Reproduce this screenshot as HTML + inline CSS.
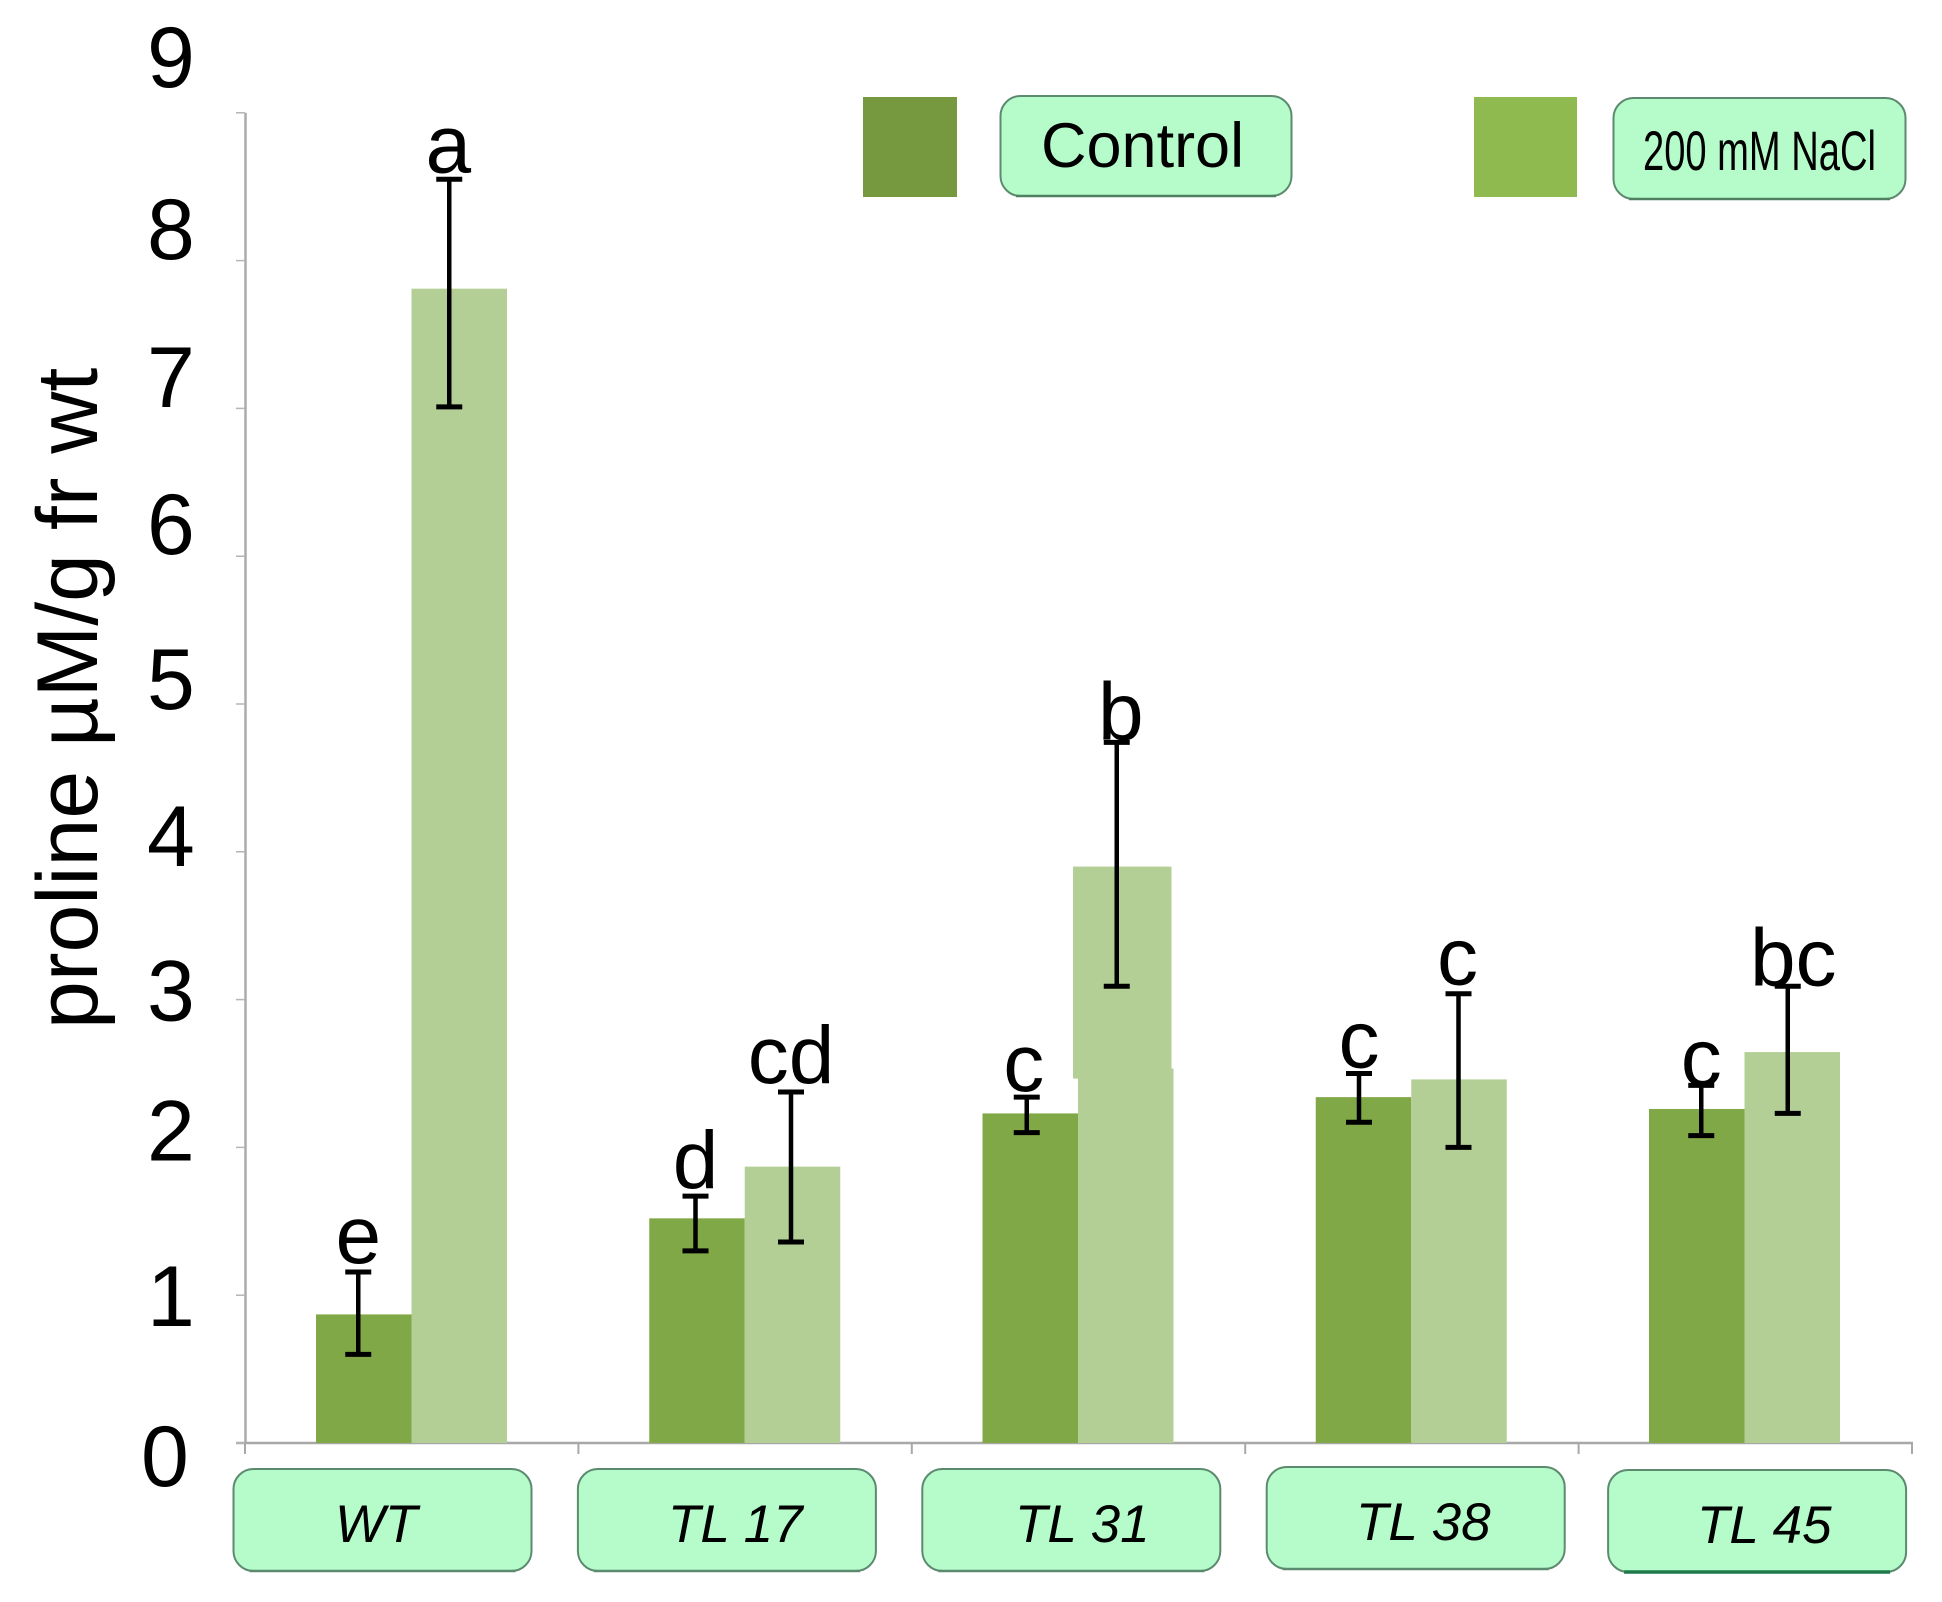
<!DOCTYPE html>
<html lang="en">
<head>
<meta charset="utf-8">
<title>Proline content chart</title>
<style>
html,body{margin:0;padding:0;background:#fff;}
svg{display:block;font-family:"Liberation Sans",Arial,sans-serif;}
</style>
</head>
<body>
<svg id="chart" width="1942" height="1602" viewBox="0 0 1942 1602" xmlns="http://www.w3.org/2000/svg">
  <rect x="0" y="0" width="1942" height="1602" fill="#ffffff"/>
  <text transform="translate(97 1029) rotate(-90)" font-size="86" fill="#000">proline µM/g fr wt</text>

  <rect x="863" y="97" width="94" height="100" fill="#76993f"/>
  <rect x="1000.5" y="96" width="291" height="100" rx="20" fill="#b6fccb" stroke="#5c8a6f" stroke-width="2"/>
  <line x1="1016" x2="1276" y1="196" y2="196" stroke="#4f8062" stroke-width="2.5"/>
  <text x="1041" y="167" font-size="63" fill="#000">Control</text>
  <rect x="1474" y="97" width="103" height="100" fill="#8fba50"/>
  <rect x="1613.5" y="98" width="292" height="101" rx="20" fill="#b6fccb" stroke="#5c8a6f" stroke-width="2"/>
  <line x1="1629" x2="1890" y1="199" y2="199" stroke="#4f8062" stroke-width="2.5"/>
  <text x="1643" y="170" font-size="56" textLength="233" lengthAdjust="spacingAndGlyphs" fill="#000">200 mM NaCl</text>

  <g id="marks"></g>
</svg>
<script>
const categories = ['WT', 'TL 17', 'TL 31', 'TL 38', 'TL 45'];
const controlValues = [0.87, 1.52, 2.23, 2.34, 2.26];
const saltValues = [7.81, 1.87, 3.90, 2.46, 2.645];
const controlHigh = [1.157, 1.67, 2.34, 2.50, 2.42];
const controlLow = [0.60, 1.30, 2.10, 2.17, 2.08];
const saltHigh = [8.55, 2.375, 4.74, 3.04, 3.09];
const saltLow = [7.01, 1.36, 3.09, 2.00, 2.23];
const controlLetters = ['e', 'd', 'c', 'c', 'c'];
const saltLetters = ['a', 'cd', 'b', 'c', 'bc'];
const yTicks = [0, 1, 2, 3, 4, 5, 6, 7, 8, 9];

const SVGNS = 'http://www.w3.org/2000/svg';
const root = document.getElementById('marks');

function y(v) { return 1443 - 147.8 * v; }
function band(i) { return 245 + 333.4 * i; }
function barX(i, s) { return 245 + 333.25 * i + 71 + s * 95.5; }
const BAR_W = 95.5;

function make(tag, attrs, text) {
  const n = document.createElementNS(SVGNS, tag);
  for (const k in attrs) n.setAttribute(k, attrs[k]);
  if (text !== undefined) n.textContent = text;
  root.appendChild(n);
  return n;
}

/* hand-placement of the reference's overlaid labels and whiskers */
const tickLabelNudge = {9: -26, 8: -1.5, 7: -1.5, 6: -2, 5: 5, 4: 14, 3: 21, 2: 13, 1: 31, 0: 43};
const whiskerShift = {control: [-5.5, -1.5, -3.5, -4.5, 4.5], salt: [-10, -1.5, -9, -0.5, -4.5]};
const letterLift = {control: [9, 8, 6, 6, 0], salt: [7, 9, 3, 9, 1]};
const letterShift = {control: [0, 0, -3, 0, 0], salt: [-1, 0, 4, -1, 5.5]};
const boxPlace = {
  'WT':    {dx: -12, top: 1469, textX: 335},
  'TL 17': {dx: -1,  top: 1469, textX: 668},
  'TL 31': {dx: 10,  top: 1469, textX: 1015},
  'TL 38': {dx: 21,  top: 1467, textX: 1356},
  'TL 45': {dx: 29,  top: 1470, textX: 1697}
};

/* axes */
const yAxisLine = make('line', {x1: 245.5, x2: 245.5, y1: y(9), y2: y(0), stroke: '#ababab', 'stroke-width': 2.5});


const xAxisLine = make('line', {x1: 236, x2: band(5) + 1, y1: y(0), y2: y(0), stroke: '#a8a8a8', 'stroke-width': 2.5});



yTicks.forEach(function (t) {
  const mark = make('line', {x1: 236, x2: 245, y1: y(t), y2: y(t), stroke: '#b5b5b5', 'stroke-width': 1.5});
  
  
  const label = make('text', {x: t === 0 ? 141 : 147, y: y(t) + tickLabelNudge[t], 'font-size': 86, fill: '#000'}, String(t));
  
  
});

for (let i = 0; i <= categories.length; i++) {
  const mark = make('line', {x1: band(i), x2: band(i), y1: y(0), y2: y(0) + 11, stroke: '#a8a8a8', 'stroke-width': 2});
  
  
}

/* bars */
categories.forEach(function (cat, i) {
  const slug = cat.toLowerCase().replace(' ', '-');
  const c = make('rect', {x: barX(i, 0), y: y(controlValues[i]), width: BAR_W, height: y(0) - y(controlValues[i]), fill: '#80a846'});
  
  
  const s = make('rect', {x: barX(i, 1), y: y(saltValues[i]), width: BAR_W, height: y(0) - y(saltValues[i]), fill: '#b3cf95'});
  
  
});

/* stepped edge on the TL 31 salt bar, an artefact of the source figure */
const stepIndex = categories.indexOf('TL 31');
const stepLeft = make('rect', {x: barX(stepIndex, 1) - 5, y: y(saltValues[stepIndex]), width: 6, height: 212, fill: '#b3cf95'});


const stepRight = make('rect', {x: barX(stepIndex, 1) + BAR_W - 2, y: y(saltValues[stepIndex]) - 1, width: 4, height: 203, fill: '#ffffff'});



/* whiskers and significance letters */
function drawWhisker(cx, hi, lo, name) {
  const stem = make('line', {x1: cx, x2: cx, y1: y(hi), y2: y(lo), stroke: '#000', 'stroke-width': 4.5});
  
  
  const top = make('line', {x1: cx - 13, x2: cx + 13, y1: y(hi), y2: y(hi), stroke: '#000', 'stroke-width': 5});
  
  
  const bottom = make('line', {x1: cx - 13, x2: cx + 13, y1: y(lo), y2: y(lo), stroke: '#000', 'stroke-width': 5});
  
  
}

categories.forEach(function (cat, i) {
  const slug = cat.toLowerCase().replace(' ', '-');
  const cx = barX(i, 0) + BAR_W / 2 + whiskerShift.control[i];
  drawWhisker(cx, controlHigh[i], controlLow[i], 'error-bar-control-' + slug);
  const sx = barX(i, 1) + BAR_W / 2 + whiskerShift.salt[i];
  drawWhisker(sx, saltHigh[i], saltLow[i], 'error-bar-salt-' + slug);

  const cl = make('text', {x: cx + letterShift.control[i], y: y(controlHigh[i]) - letterLift.control[i], 'font-size': 82, 'text-anchor': 'middle', fill: '#000'}, controlLetters[i]);
  
  
  const sl = make('text', {x: sx + letterShift.salt[i], y: y(saltHigh[i]) - letterLift.salt[i], 'font-size': 82, 'text-anchor': 'middle', fill: '#000'}, saltLetters[i]);
  
  
});

/* category label boxes */
categories.forEach(function (cat, i) {
  const slug = cat.toLowerCase().replace(' ', '-');
  const p = boxPlace[cat];
  const boxX = band(i) + p.dx + 0.5;
  const box = make('rect', {x: boxX, y: p.top, width: 298, height: 102, rx: 20, fill: '#b6fccb', stroke: '#5c8a6f', 'stroke-width': 2});
  
  
  const edge = make('line', {x1: boxX + 16, x2: boxX + 282, y1: p.top + 102, y2: p.top + 102, stroke: cat === 'TL 45' ? '#1f7a4a' : '#5c8a6f', 'stroke-width': cat === 'TL 45' ? 3.5 : 2.5});
  
  
  const label = make('text', {x: p.textX, y: p.top + 73, 'font-size': 53, 'font-style': 'italic', fill: '#000'}, cat);
  
  
});
</script>
</body>
</html>
